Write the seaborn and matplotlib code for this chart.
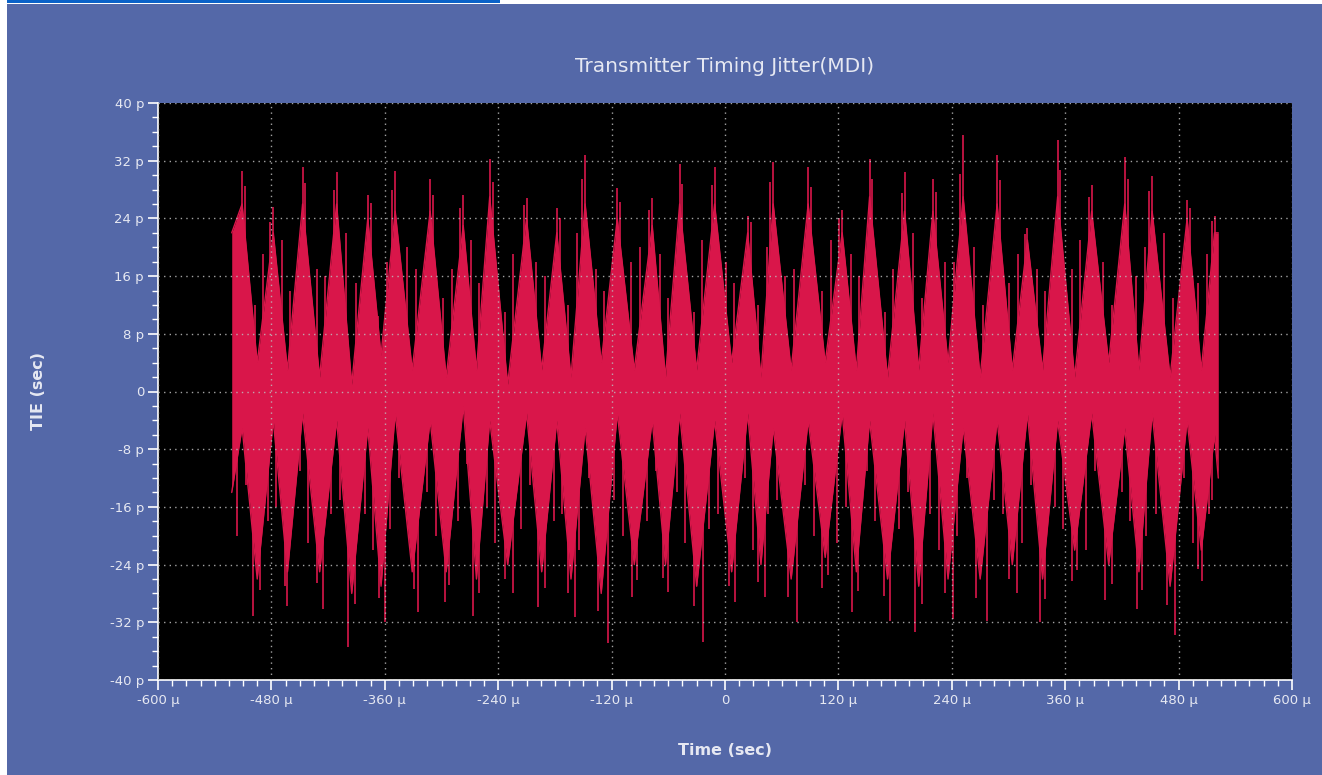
import matplotlib
matplotlib.use("Agg")
import numpy as np
import pandas as pd
import matplotlib.pyplot as plt
import seaborn as sns
from matplotlib.ticker import MultipleLocator, FuncFormatter
from matplotlib.patches import Rectangle

# ---------------- data ----------------
title = "Transmitter Timing Jitter(MDI)"
x_label = "Time (sec)"
y_label = "TIE (sec)"

# record start / end (us) and the band limits there (ps)
record_t_us = [-522, 522]
record_top_ps = [22, 22]
record_bot_ps = [-14, -12]

# crest of each jitter cycle (us) and the solid band limits there (ps)
peak_t_us = [-511, -478, -447, -411, -378, -349, -312, -277, -249, -210, -178, -148,
             -114, -77, -48, -11, 24, 51, 88, 124, 153, 190, 220, 252, 288, 320,
             352, 388, 423, 452, 489, 518]
peak_band_top_ps = [26, 22, 26, 26, 24, 25, 25, 23, 27, 24, 22, 26, 24, 23, 26, 26,
                    22, 26, 26, 22, 27, 25, 25, 27, 26, 21, 27, 25, 26, 25, 24, 22]
peak_band_bot_ps = [-5, -4, -3, -4, -5, -3, -4, -2, -4, -3, -4, -5, -3, -4, -3, -4,
                    -3, -5, -4, -3, -4, -4, -3, -5, -4, -3, -4, -3, -5, -3, -4, -6]

# valley of each jitter cycle (us) and the solid band limits there (ps)
valley_t_us = [-495, -463, -429, -395, -364, -331, -295, -263, -230, -194, -163, -131,
               -96, -63, -30, 7, 38, 70, 106, 139, 172, 205, 236, 270, 304, 336, 370,
               406, 438, 471, 504]
valley_band_top_ps = [4, 3, 2, 1, 5, 3, 2, 3, 1, 3, 2, 4, 3, 2, 3, 4, 2, 3, 4, 3, 2,
                      3, 4, 2, 3, 3, 2, 4, 3, 2, 3]
valley_band_bot_ps = [-26, -25, -25, -28, -27, -25, -25, -26, -24, -25, -26, -28, -24,
                      -24, -27, -25, -24, -26, -23, -25, -26, -27, -26, -26, -24, -26,
                      -22, -24, -25, -27, -22]

# highest spike of each crest
peak_spike_ps = [30.6, 25.6, 31.1, 30.4, 27.3, 30.6, 29.4, 27.3, 32.3, 26.8, 25.4, 32.8,
                 28.2, 26.8, 31.6, 31.1, 24.4, 31.8, 31.1, 25.1, 32.3, 30.4, 29.4, 35.6,
                 32.8, 22.7, 34.9, 28.7, 32.5, 29.9, 26.6, 24.4]
# second spike beside each crest
peak2_t_us = [-508, -481, -444, -414, -375, -352, -309, -280, -246, -213, -175, -151,
              -111, -80, -45, -14, 27, 48, 91, 121, 156, 187, 223, 249, 291, 317, 355,
              385, 426, 449, 492, 515]
peak2_ps = [28.5, 23.5, 28.9, 28.0, 26.2, 27.9, 27.3, 25.4, 29.0, 25.8, 24.0, 29.5,
            26.3, 25.2, 28.8, 28.6, 23.5, 29.0, 28.4, 24.0, 29.4, 27.5, 27.6, 30.2,
            29.3, 21.8, 30.7, 27.0, 29.5, 27.8, 25.4, 23.6]

# lowest spike of each valley
trough_t_us = [-499, -463, -425, -399, -360, -325, -296, -267, -224, -198, -159, -124,
               -98, -60, -23, 11, 42, 76, 103, 134, 175, 201, 241, 277, 309, 333, 367,
               402, 436, 476, 505]
trough_spike_ps = [-31.1, -29.7, -30.1, -35.4, -32.0, -30.6, -29.2, -31.1, -28.0, -29.9,
                   -31.3, -34.9, -28.5, -27.8, -34.7, -29.2, -28.5, -32.0, -27.3, -30.6,
                   -31.8, -33.3, -31.6, -31.8, -28.0, -32.0, -26.3, -28.9, -30.1, -33.7,
                   -26.3]
# second spike beside each valley
trough2_t_us = [-492, -466, -432, -392, -366, -329, -292, -260, -233, -191, -166, -134,
                -93, -66, -33, 4, 35, 67, 109, 141, 168, 208, 233, 266, 301, 339, 373,
                409, 441, 468, 500]
trough2_ps = [-27.5, -27.0, -26.5, -29.5, -28.6, -27.4, -26.8, -28.0, -26.0, -27.2,
              -28.0, -30.5, -26.2, -25.8, -29.8, -27.0, -26.4, -28.5, -25.4, -27.7,
              -28.4, -29.5, -28.0, -28.6, -26.0, -28.8, -24.8, -26.7, -27.5, -29.6,
              -24.6]

# isolated spikes reaching up into the gaps above the valleys
gap_up_t_us = [-497, -460, -432, -391, -367, -327, -298, -260, -233, -191, -166, -128,
               -99, -60, -33, 10, 35, 73, 103, 142, 169, 208, 233, 273, 301, 339, 367,
               409, 435, 474, 501]
gap_up_ps = [12, 14, 17, 15, 10.5, 17, 13, 15, 11, 16, 12, 14, 18, 13, 11, 15, 12, 17,
             14, 16, 11, 13, 18, 12, 15, 14, 17, 12, 16, 13, 15]
gap_up2_t_us = [-489, -469, -423, -401, -358, -337, -289, -269, -224, -200, -157, -137,
                -90, -69, -24, 1, 44, 64, 112, 133, 178, 199, 242, 264, 310, 330, 376,
                400, 444, 465, 510]
gap_up2_ps = [19, 21, 16, 22, 18, 20, 17, 21, 19, 18, 22, 17, 20, 19, 21, 18, 20, 16,
              21, 19, 17, 22, 18, 20, 19, 17, 21, 18, 20, 22, 19]

# isolated spikes reaching down into the gaps below the crests
gap_dn_t_us = [-507, -475, -450, -407, -381, -345, -315, -273, -252, -206, -181, -144,
               -117, -73, -51, -7, 21, 55, 85, 128, 150, 194, 217, 256, 285, 324, 349,
               392, 420, 456, 486, 515]
gap_dn_ps = [-13, -16, -11, -15, -17, -12, -14, -10, -16, -13, -18, -12, -15, -11, -14,
             -17, -12, -15, -13, -16, -11, -14, -17, -12, -15, -13, -16, -11, -14, -17,
             -12, -15]
gap_dn2_t_us = [-516, -484, -441, -417, -372, -355, -306, -283, -243, -216, -172, -154,
                -108, -83, -42, -17, 30, 45, 94, 118, 159, 184, 226, 246, 294, 314, 358,
                382, 429, 446, 495, 512]
gap_dn2_ps = [-20, -18, -21, -17, -22, -19, -20, -18, -21, -19, -17, -22, -20, -18, -21,
              -19, -22, -17, -20, -21, -18, -19, -22, -20, -17, -21, -19, -22, -18, -20,
              -21, -17]

x_ticks_us = [-600, -480, -360, -240, -120, 0, 120, 240, 360, 480, 600]
y_ticks_ps = [-40, -32, -24, -16, -8, 0, 8, 16, 24, 32, 40]

# ---------------- tables ----------------
band_rows = [(record_t_us[0], record_top_ps[0], record_bot_ps[0])]
for i in range(len(peak_t_us)):
    band_rows.append((peak_t_us[i], peak_band_top_ps[i], peak_band_bot_ps[i]))
    if i < len(valley_t_us):
        band_rows.append((valley_t_us[i], valley_band_top_ps[i], valley_band_bot_ps[i]))
band_rows.append((record_t_us[1], record_top_ps[1], record_bot_ps[1]))
band = pd.DataFrame(band_rows, columns=["t", "top", "bot"])

spikes = pd.DataFrame({
    "t": (peak_t_us + peak2_t_us + trough_t_us + trough2_t_us
          + gap_up_t_us + gap_up2_t_us + gap_dn_t_us + gap_dn2_t_us),
    "v": (peak_spike_ps + peak2_ps + trough_spike_ps + trough2_ps
          + gap_up_ps + gap_up2_ps + gap_dn_ps + gap_dn2_ps),
})

# ---------------- style ----------------
BG = "#5468A8"
RED = "#D9164A"
TXT = "#E6E8F2"

sns.set_theme(style="dark", rc={
    "axes.facecolor": "black",
    "figure.facecolor": BG,
    "axes.edgecolor": "white",
})
plt.rcParams["font.family"] = ["DejaVu Sans"]

fig = plt.figure(figsize=(13.22, 7.75), dpi=100)
fig.patch.set_facecolor(BG)
W, H = 1322, 775
ax = fig.add_axes([158 / W, 1 - 680 / H, (1292 - 158) / W, (680 - 103) / H])
ax.set_facecolor("black")

# window chrome at top-left
fig.patches.append(Rectangle((0, 0), 7 / W, 1, transform=fig.transFigure,
                             facecolor="white", edgecolor="none", zorder=0))
fig.patches.append(Rectangle((0, 1 - 4 / H), 1, 4 / H, transform=fig.transFigure,
                             facecolor="white", edgecolor="none", zorder=0))
fig.patches.append(Rectangle((7 / W, 1 - 3 / H), (500 - 7) / W, 3 / H,
                             transform=fig.transFigure, facecolor="#0A62C8",
                             edgecolor="none", zorder=1))

# trace
ax.fill_between(band["t"], band["bot"], band["top"], color=RED, lw=0, zorder=2)
sns.lineplot(data=band, x="t", y="top", ax=ax, color=RED, lw=1.0,
             estimator=None, sort=False, zorder=2)
sns.lineplot(data=band, x="t", y="bot", ax=ax, color=RED, lw=1.0,
             estimator=None, sort=False, zorder=2)
ax.vlines(spikes["t"], 0, spikes["v"], color=RED, lw=1.2, zorder=2)

# axes
ax.set_xlim(x_ticks_us[0], x_ticks_us[-1])
ax.set_ylim(y_ticks_ps[0], y_ticks_ps[-1])
ax.set_xticks(x_ticks_us)
ax.set_yticks(y_ticks_ps)
ax.xaxis.set_minor_locator(MultipleLocator(15))
ax.yaxis.set_minor_locator(MultipleLocator(2))
ax.xaxis.set_major_formatter(FuncFormatter(lambda v, p: "0" if abs(v) < 1e-9 else f"{v:.0f} \u03bc"))
ax.yaxis.set_major_formatter(FuncFormatter(lambda v, p: "0" if abs(v) < 1e-9 else f"{v:.0f} p"))

ax.tick_params(axis="both", which="major", direction="out", length=7, width=1.2,
               color="white", labelcolor=TXT, labelsize=9.5, pad=3,
               bottom=True, left=True)
ax.tick_params(axis="both", which="minor", direction="out", length=4, width=1.0,
               color="white", bottom=True, left=True)

ax.set_axisbelow(False)
ax.grid(True, which="major", color="#BEBEBE", linestyle=(0, (1, 3)), lw=1.0, alpha=0.85)

for side in ("top", "right"):
    ax.spines[side].set_visible(False)
for side in ("left", "bottom"):
    ax.spines[side].set_color("white")
    ax.spines[side].set_linewidth(1.2)

ax.set_xlabel(x_label, color=TXT, fontsize=11.5, fontweight="bold")
ax.set_ylabel(y_label, color=TXT, fontsize=11.5, fontweight="bold")
ax.xaxis.set_label_coords(0.5, -0.110)
ax.yaxis.set_label_coords(-0.099, 0.5)

fig.text(725 / W, 1 - 67 / H, title, color=TXT, fontsize=14.5, ha="center", va="center")

fig.savefig("out.png", dpi=100, facecolor=BG)
